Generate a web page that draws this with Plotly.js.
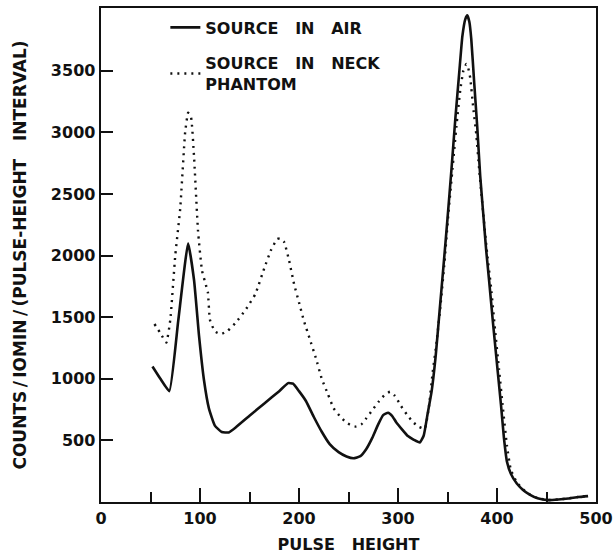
<!DOCTYPE html>
<html>
<head>
<meta charset="utf-8">
<script src="https://cdn.plot.ly/plotly-3.0.1.min.js"></script>
<style>
html,body{margin:0;padding:0;background:#fff;}
#chart{width:616px;height:557px;}
</style>
</head>
<body>
<div id="chart"></div>
<script>
// Source in air (solid)
const airX = [52, 60, 69, 78, 88, 94, 99, 104, 109, 115, 122, 129, 136, 150, 165, 180, 189, 194, 200, 207, 215, 223, 231, 240, 248, 255, 262, 268, 274, 280, 285, 290, 294, 298, 304, 310, 316, 322, 326, 330, 334, 338, 342, 346, 350, 354, 358, 362, 365, 368, 370, 372, 374, 377, 380, 383, 386, 389, 392, 396, 400, 404, 407, 410, 414, 420, 426, 433, 441, 452, 462, 472, 482, 492];
const airY = [1100, 1000, 900, 1470, 2100, 1800, 1350, 990, 760, 620, 568, 565, 605, 700, 800, 900, 965, 960, 900, 820, 690, 570, 470, 405, 370, 355, 372, 430, 520, 630, 705, 725, 700, 650, 590, 535, 505, 483, 540, 720, 900, 1180, 1550, 1920, 2300, 2700, 3120, 3500, 3780, 3920, 3950, 3900, 3760, 3400, 3050, 2650, 2350, 2050, 1800, 1450, 1120, 790, 520, 330, 230, 150, 100, 60, 30, 15, 20, 28, 40, 48];
// Source in neck phantom (dotted)
const neckX = [54, 60, 66, 70, 75, 80, 85, 88, 91, 94, 98, 102, 106, 108, 110, 115, 121, 128, 136, 146, 156, 165, 172, 178, 181, 185, 190, 195, 200, 205, 211, 217, 223, 229, 235, 241, 247, 253, 258, 263, 268, 274, 280, 286, 292, 297, 303, 309, 315, 321, 327, 331, 335, 339, 343, 347, 351, 355, 359, 363, 366, 369, 371, 373, 376, 379, 382, 386, 390, 394, 398, 402, 406, 410, 414, 420, 426, 433, 441, 452, 462, 472, 482, 492];
const neckY = [1445, 1370, 1295, 1480, 2000, 2380, 3000, 3160, 3120, 2800, 2200, 1880, 1760, 1700, 1480, 1385, 1363, 1390, 1455, 1560, 1690, 1900, 2050, 2135, 2140, 2110, 1960, 1770, 1620, 1470, 1320, 1170, 1000, 880, 760, 700, 650, 620, 612, 630, 680, 745, 810, 865, 895, 860, 780, 710, 650, 610, 595, 760, 1050, 1300, 1600, 1950, 2350, 2700, 3050, 3350, 3500, 3555, 3520, 3440, 3200, 2990, 2700, 2350, 2020, 1740, 1400, 1080, 760, 460, 260, 160, 105, 62, 32, 16, 21, 29, 41, 49];

const seriesNames = ["SOURCE\u00a0\u00a0\u00a0IN\u00a0\u00a0\u00a0AIR", "SOURCE\u00a0\u00a0\u00a0IN\u00a0\u00a0\u00a0NECK<br>PHANTOM"];
const yTicks = [500, 1000, 1500, 2000, 2500, 3000, 3500];
const xTicks = [0, 100, 200, 300, 400, 500];
const xTitle = "PULSE\u00a0\u00a0\u00a0HEIGHT";
const yTitle = "COUNTS\u2009/\u2009IOMIN\u2009/\u2009(PULSE-HEIGHT\u00a0\u00a0\u00a0INTERVAL)";

const FONT = "DejaVu Sans";
const traces = [
  {x: airX, y: airY, mode: "lines", name: seriesNames[0], legendgroup: "a",
   line: {color: "#111", width: 2.6, shape: "spline", smoothing: 0.4}},
  {x: neckX, y: neckY, mode: "lines", name: seriesNames[1], legendgroup: "b",
   line: {color: "#111", width: 2.4, dash: "2px,5px", shape: "spline", smoothing: 0.4}}
];

const layout = {
  width: 616, height: 557,
  margin: {l: 101, r: 20, t: 8, b: 55},
  paper_bgcolor: "#fff", plot_bgcolor: "#fff",
  font: {family: FONT, color: "#111", size: 14, weight: "bold"},
  showlegend: true,
  legend: {x: 0.13, y: 0.995, xanchor: "left", yanchor: "top", traceorder: "grouped",
    bgcolor: "rgba(0,0,0,0)", font: {family: FONT, size: 16, color: "#111", weight: "bold"},
    itemwidth: 30, tracegroupgap: 12},
  xaxis: {
    range: [0, 500], tickvals: xTicks, ticks: "inside", ticklen: 14, tickwidth: 2.2, tickcolor: "#111",
    minor: {dtick: 50, tick0: 0, ticks: "inside", ticklen: 10, tickwidth: 2, tickcolor: "#111"},
    showline: true, linewidth: 2.4, linecolor: "#111", mirror: true, showgrid: false, zeroline: false,
    tickfont: {family: FONT, size: 16, color: "#111", weight: "bold"},
    title: {text: xTitle, font: {family: FONT, size: 16, color: "#111", weight: "bold"}, standoff: 12}
  },
  yaxis: {
    range: [0, 4010], tickvals: yTicks, ticks: "inside", ticklen: 12, tickwidth: 2, tickcolor: "#111",
    showline: true, linewidth: 2.4, linecolor: "#111", mirror: true, showgrid: false, zeroline: false,
    tickfont: {family: FONT, size: 16, color: "#111", weight: "bold"},
    title: {text: yTitle, font: {family: FONT, size: 17, color: "#111", weight: "bold"}, standoff: 20}
  }
};

Plotly.newPlot("chart", traces, layout, {displayModeBar: false, staticPlot: true});
</script>
</body>
</html>
